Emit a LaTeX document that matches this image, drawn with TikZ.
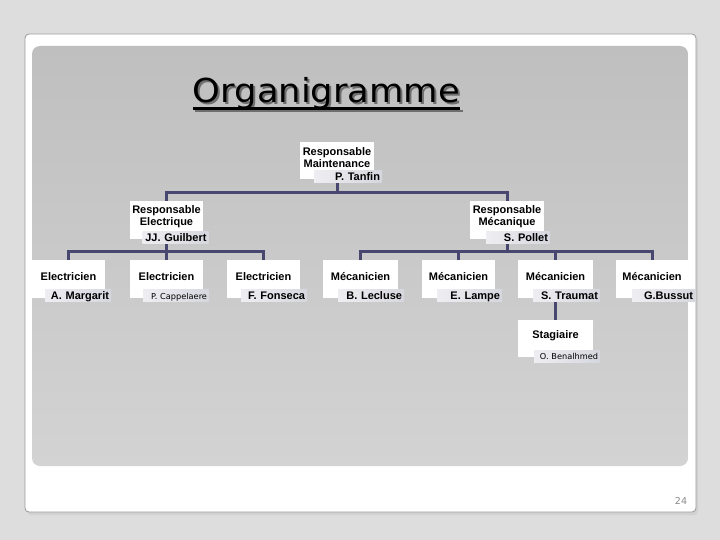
\documentclass[tikz,border=0pt]{standalone}
\usepackage{fontspec}
\setmainfont{Liberation Sans}
\newfontfamily\titlefont{DejaVu Sans}
\newfontfamily\smallfont{DejaVu Sans}
\usetikzlibrary{calc}
\definecolor{bgc}{HTML}{DDDDDD}
\definecolor{cardborder}{HTML}{9A9A9A}
\definecolor{innertop}{HTML}{BFBFBF}
\definecolor{innerbot}{HTML}{D3D3D3}
\definecolor{conn}{HTML}{47476F}
\definecolor{nbL}{HTML}{EEEEF2}
\definecolor{nbR}{HTML}{D6D6DE}
\definecolor{shadowc}{HTML}{6E6E6E}
\definecolor{pagenum}{HTML}{8A8A8A}
\tikzset{
  wbox/.style={fill=white, inner sep=0, minimum width=73, minimum height=38},
  ttl/.style={font=\bfseries\fontsize{11}{12}\selectfont, align=center, inner sep=0},
  nbox/.style={left color=nbL, right color=nbR, inner xsep=2, inner ysep=0,
    minimum height=12, text width=#1, align=right, text height=8, text depth=1,
    font=\bfseries\fontsize{11}{12}\selectfont},
  smallname/.style={font=\smallfont\fontsize{8.2}{9}\selectfont},
  link/.style={draw=conn, line width=3, line join=miter},
  titlestyle/.style={font=\titlefont\fontsize{33}{38}\selectfont, inner sep=0, anchor=base}
}
\begin{document}
\begin{tikzpicture}[x=1pt,y=-1pt]
\useasboundingbox (0,0) rectangle (720,540);
\fill[bgc] (0,0) rectangle (720,540);
% card
\fill[black!18, rounded corners=4] (27,36) rectangle (698,515);
\filldraw[fill=white, draw=cardborder, line width=0.8, rounded corners=4] (25,34) rectangle (696,512);
\shade[top color=innertop, bottom color=innerbot, rounded corners=8] (32,46) rectangle (688,466);

% title
\node[titlestyle, text=shadowc] (titleS) at (328.5,105) {\scalebox{1.07}[1]{Organigramme}};
\node[titlestyle] (title) at (326.5,102.5) {\scalebox{1.07}[1]{Organigramme}};
\draw[shadowc, line width=2.2] ([shift={(2.5,8.5)}]title.base west) -- ([shift={(2.5,8.5)}]title.base east);
\draw[black, line width=2.2] ([shift={(0,6)}]title.base west) -- ([shift={(0,6)}]title.base east);

% coordinates for junctions
\coordinate (j0) at (337,193);
\coordinate (j1) at (166.5,251);
\coordinate (j2) at (507,251);

% boxes
\node[wbox, minimum width=74, minimum height=37] (root) at (337,160.5) {};
\node[wbox] (resE) at (166.5,220) {};
\node[wbox, minimum width=74] (resM) at (507,220) {};
\node[wbox] (E1) at (68.5,279) {};
\node[wbox] (E2) at (166.5,279) {};
\node[wbox] (E3) at (263.5,279) {};
\node[wbox, minimum width=75] (M1) at (360.5,279) {};
\node[wbox] (M2) at (458.5,279) {};
\node[wbox, minimum width=75] (M3) at (555.5,279) {};
\node[wbox, minimum width=72] (M4) at (652,279) {};
\node[wbox, minimum width=74, minimum height=37] (St) at (555.5,338.5) {};

% connectors
\draw[link] (root.south) -- (j0);
\draw[link] (resE.north) |- (j0) -| (resM.north);
\draw[link] (resE.south) -- (j1);
\draw[link] (E1.north) |- (j1) -| (E3.north);
\draw[link] (E2.north) -- (j1);
\draw[link] (resM.south) -- (j2);
\draw[link] (M1.north) |- (j2) -| (M4.north);
\draw[link] (M2.north) -- (M2.north |- j2);
\draw[link] (M3.north) -- (M3.north |- j2);
\draw[link] (M3.south) -- (St.north);

% redraw white boxes above connector ends
\fill[white] (root.north west) rectangle (root.south east);
\fill[white] (resE.north west) rectangle (resE.south east);
\fill[white] (resM.north west) rectangle (resM.south east);
\fill[white] (E1.north west) rectangle (E1.south east);
\fill[white] (E2.north west) rectangle (E2.south east);
\fill[white] (E3.north west) rectangle (E3.south east);
\fill[white] (M1.north west) rectangle (M1.south east);
\fill[white] (M2.north west) rectangle (M2.south east);
\fill[white] (M3.north west) rectangle (M3.south east);
\fill[white] (M4.north west) rectangle (M4.south east);
\fill[white] (St.north west) rectangle (St.south east);

% titles in boxes
\node[ttl] (rootT) at (337,158) {Responsable\\Maintenance};
\node[ttl] (resET) at (166.5,217) {Responsable\\Electrique};
\node[ttl] (resMT) at (507,217) {Responsable\\Mécanique};
\node[ttl] (E1T) at (68.5,276.5) {Electricien};
\node[ttl] (E2T) at (166.5,276.5) {Electricien};
\node[ttl] (E3T) at (263.5,276.5) {Electricien};
\node[ttl] (M1T) at (360.5,276.5) {Mécanicien};
\node[ttl] (M2T) at (458.5,276.5) {Mécanicien};
\node[ttl] (M3T) at (555.5,276.5) {Mécanicien};
\node[ttl] (M4T) at (652,276.5) {Mécanicien};
\node[ttl] (StT) at (555.5,336) {Stagiaire};

% name boxes
\node[nbox=64] (rootN) at (348,177) {P. Tanfin};
\node[nbox=62] (resEN) at (175.5,237.5) {\mbox{JJ. Guilbert}};
\node[nbox=60] (resMN) at (518,237.5) {S. Pollet};
\node[nbox=62] (E1N) at (78,295.5) {A. Margarit};
\node[nbox=62, smallname] (E2N) at (176,295.5) {P. Cappelaere};
\node[nbox=62] (E3N) at (274,295.5) {F. Fonseca};
\node[nbox=62] (M1N) at (371,295.5) {B. Lecluse};
\node[nbox=61] (M2N) at (469.5,295.5) {E. Lampe};
\node[nbox=63] (M3N) at (566.5,295.5) {S. Traumat};
\node[nbox=59] (M4N) at (663.5,295.5) {G.Bussut};
\node[nbox=62, smallname] (StN) at (567,356) {O. Benalhmed};

% page number
\node[font=\smallfont\fontsize{9.5}{11}\selectfont, text=pagenum, inner sep=0] (page) at (681,500.5) {24};
\end{tikzpicture}
\end{document}
